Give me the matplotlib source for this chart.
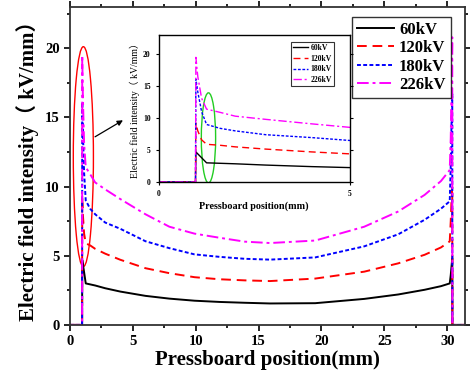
import numpy as np
import matplotlib.pyplot as plt
from matplotlib.patches import Ellipse

plt.rcParams['font.family'] = ['Liberation Serif', 'Noto Sans CJK SC']
plt.rcParams['font.weight'] = 'bold'

# pressboard position (mm)
pos = [0, 0.96, 0.97, 1.02, 1.12, 1.25, 1.6, 2.0, 2.8, 4.0, 6.0, 7.9, 9.9,
       11.9, 13.9, 15.9, 19.5, 23.4, 26.1, 28.2, 29.5, 30.2, 30.28, 30.34,
       30.4, 30.41, 32]

# electric field intensity (kV/mm)
e60 = [0, 0, 4.7, 4.4, 3.8, 3.0, 2.93, 2.85, 2.65, 2.41, 2.1, 1.9, 1.75,
       1.66, 1.6, 1.55, 1.57, 1.88, 2.2, 2.54, 2.8, 3.0, 3.6, 4.2,
       4.8, 0, 0]
e120 = [0, 0, 9.2, 8.0, 6.6, 5.9, 5.75, 5.5, 5.15, 4.71, 4.1, 3.74, 3.45,
        3.3, 3.22, 3.17, 3.35, 3.85, 4.45, 5.07, 5.6, 6.04, 7.5, 9.0,
        10.0, 0, 0]
e180 = [0, 0, 16.1, 14.1, 11.0, 9.0, 8.4, 8.0, 7.4, 6.95, 6.05, 5.55, 5.1,
        4.92, 4.78, 4.72, 4.88, 5.68, 6.55, 7.6, 8.4, 8.94, 11.5, 14.5,
        16.7, 0, 0]
e226 = [0, 0, 19.5, 16.5, 13.1, 11.4, 10.9, 10.3, 9.8, 9.1, 8.0, 7.1, 6.6,
        6.3, 6.02, 5.92, 6.1, 7.1, 8.2, 9.4, 10.4, 11.2, 13.5, 17.0,
        20.8, 0, 0]

labels = ['60kV', '120kV', '180kV', '226kV']
series = [e60, e120, e180, e226]
colors = ['black', 'red', 'blue', 'magenta']
styles = ['-', (0, (5, 3)), (0, (2, 1.2)), (0, (6, 2, 1.5, 2))]

ylab = 'Electric field intensity（ kV/mm）'

fig = plt.figure(figsize=(4.7, 3.8), dpi=100)
ax = fig.add_axes([0.149, 0.145, 0.84, 0.837])

for y, lab, c, ls in zip(series, labels, colors, styles):
    ax.plot(pos, y, color=c, linestyle=ls, lw=1.4, label=lab)

ax.set_xlim(0, 31.4)
ax.set_ylim(0, 23)
ax.set_xticks(np.arange(0, 31, 5))
ax.set_xticks(np.arange(0, 31.4, 2.5), minor=True)
ax.set_yticks(np.arange(0, 21, 5))
ax.set_yticks(np.arange(0, 23, 2.5), minor=True)
ax.tick_params(which='both', direction='out', width=1.2, labelsize=10.5)
ax.tick_params(which='major', length=4)
ax.tick_params(which='minor', length=2.5)
ax.tick_params(which='both', top=True, right=True)
for sp in ax.spines.values():
    sp.set_linewidth(1.3)
    sp.set_color('#333333')
ax.set_xlabel('Pressboard position(mm)', fontsize=15, fontweight='bold', labelpad=1)
ax.set_ylabel(ylab, fontsize=15, fontweight='bold', labelpad=4)

leg = ax.legend(loc='upper right', fontsize=12, frameon=True, fancybox=False,
                edgecolor='black', handlelength=2.2, borderpad=0.3,
                labelspacing=0.15, handletextpad=0.3,
                bbox_to_anchor=(0.985, 0.995))
leg.get_frame().set_linewidth(1.0)

ax.add_patch(Ellipse((1.06, 12.17), 1.6, 15.9, fill=False, edgecolor='red', lw=1.0))
ax.annotate('', xy=(4.4, 14.9), xytext=(1.8, 13.5),
            arrowprops=dict(arrowstyle='-|>', color='black', lw=0.9,
                            mutation_scale=8))

# inset
ins = fig.add_axes([0.338, 0.521, 0.406, 0.387])
for y, lab, c, ls in zip(series, labels, colors, styles):
    ins.plot(pos, y, color=c, linestyle=ls, lw=1.0, label=lab)
ins.set_xlim(0, 5)
ins.set_ylim(0, 23)
ins.set_xticks([0, 5])
ins.set_yticks(np.arange(0, 21, 5))
ins.tick_params(direction='out', length=2.5, labelsize=5.5, width=0.8, right=True)
ins.set_xlabel('Pressboard position(mm)', fontsize=7.3, fontweight='bold', labelpad=2)
ins.set_ylabel(ylab, fontsize=7, fontweight='normal', labelpad=2)
for sp in ins.spines.values():
    sp.set_linewidth(1.0)
ileg = ins.legend(loc='upper right', fontsize=5.5, frameon=True, fancybox=False,
                  edgecolor='black', handlelength=2.0, borderpad=0.3,
                  labelspacing=0.35, handletextpad=0.3,
                  bbox_to_anchor=(0.94, 0.98))
ileg.get_frame().set_linewidth(0.8)
ins.add_patch(Ellipse((1.30, 6.9), 0.375, 14.1, fill=False, edgecolor='#22cc22', lw=1.0))

fig.savefig('out.png', dpi=100)
